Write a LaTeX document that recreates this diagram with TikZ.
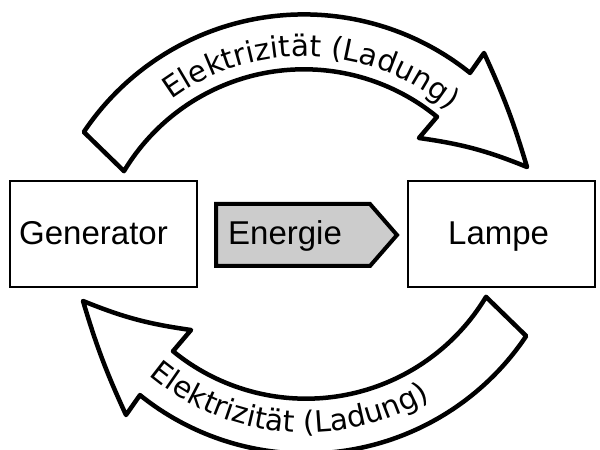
\documentclass[tikz,border=0pt]{standalone}
\usepackage{fontspec}
\setmainfont{Liberation Sans}
\newfontfamily\arcfont{DejaVu Sans}
\usetikzlibrary{calc,decorations.text}
\definecolor{energyfill}{RGB}{204,204,204}

\begin{document}
\begin{tikzpicture}[x=1pt,y=1pt,
  box/.style={draw, line width=2.5pt, minimum width=187pt, minimum height=106pt, inner sep=0pt},
  boxtext/.style={inner sep=0pt, anchor=base west, font=\fontsize{33}{39}\selectfont},
  flowband/.style={draw, fill=white, line width=4.5pt, line join=round},
  energy/.style={draw, fill=energyfill, line width=4pt, line join=miter},
  arctext/.style={decorate, decoration={text along path, text align=center,
      text={|\arcfont\fontsize{29.5}{30}\selectfont|#1}}},
  band/.pic={
    \draw[flowband] (83.8,318) arc[start angle=146.2, end angle=51.2, radius=265]
      -- (484,397) to[bend left=4] (527,283) to[bend right=7] (419,312)
      -- (437,333.2) arc[start angle=50.7, end angle=149, radius=210] -- cycle;
  }
]
\useasboundingbox (0,0) rectangle (600,450);

% centres of the two curved bands
\coordinate (topC) at (304,170.7);
\coordinate (botC) at (306,261.3);

% the two boxes
\node[box] (gen) at (103.5,216) {};
\node[box] (lamp) at (501.5,216) {};
\node[boxtext] (gentxt) at (19,205) {Generator};
\node[boxtext] (lamptxt) at (448,205) {Lampe};

% energy flow arrow between the boxes
\draw[energy] (216,184) -- (370,184) -- (397,215) -- (370,246) -- (216,246) -- cycle;
\node[boxtext] (energytxt) at (228,205) {Energie};

% curved charge-flow arrows: top one, and its point reflection below
\pic (topband) at (0,0) {band};
\pic (botband) [rotate=180] at (610,432) {band};

% labels along the bands
\path[arctext={Elektrizität (Ladung)}]
  ($(topC)+(127.85:223)$) arc[start angle=127.85, end angle=47.85, radius=223];
\path[arctext={Elektrizität (Ladung)}]
  ($(botC)+(225.25:244)$) arc[start angle=225.25, end angle=305.25, radius=244];
\end{tikzpicture}
\end{document}
